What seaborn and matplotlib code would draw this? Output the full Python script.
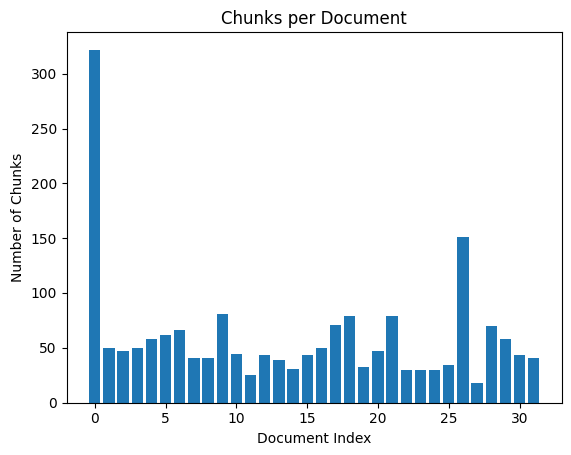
import matplotlib
matplotlib.use("Agg")
import matplotlib.pyplot as plt
import seaborn as sns
import pandas as pd

doc_index = list(range(32))
chunk_counts = [322, 50, 47, 50, 58, 62, 66, 41, 41, 81,
                44, 25, 43, 39, 31, 43, 50, 71, 79, 32,
                47, 79, 30, 30, 30, 34, 151, 18, 70, 58,
                43, 41]

df = pd.DataFrame({"doc": doc_index, "chunks": chunk_counts})

fig = plt.figure(figsize=(5.71, 4.55), dpi=100)
ax = fig.add_axes([66.5 / 571, 1 - 402.5 / 455, (562 - 66.5) / 571, (402.5 - 32) / 455])
sns.barplot(data=df, x="doc", y="chunks", native_scale=True, color="#1f77b4",
            saturation=1, width=0.8, ax=ax)
ax.set_xlim(-1.99, 32.99)
ax.set_ylim(0, 322 * 1.05)
ax.set_xticks([0, 5, 10, 15, 20, 25, 30])
ax.set_title("Chunks per Document")
ax.set_xlabel("Document Index")
ax.set_ylabel("Number of Chunks")
plt.savefig("out.png", dpi=100)
